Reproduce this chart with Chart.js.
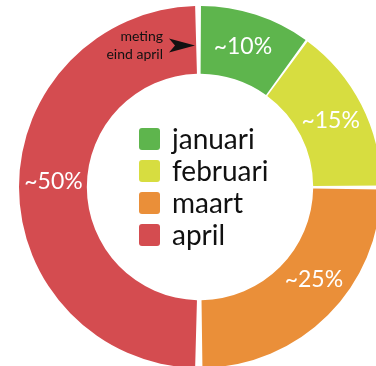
<!DOCTYPE html>
<html lang="nl">
<head>
  <meta charset="UTF-8">
  <title>Verdeling per maand</title>
  <script src="https://cdn.jsdelivr.net/npm/chart.js"></script>
  <style>
    html, body {
      margin: 0;
      padding: 0;
      background: #fff;
      overflow: hidden;
      width: 376px;
      height: 366px;
    }
    .wrap {
      position: absolute;
      left: 19px;
      top: 6px;
      width: 362px;
      height: 362px;
    }
  </style>
</head>
<body>
  <div class="wrap">
    <canvas id="donut" width="362" height="362"></canvas>
  </div>

  <script>
    // maanden en aandelen (procent)
    const maanden = ['januari', 'februari', 'maart', 'april'];
    const aandelen = [10, 15, 25, 50];
    const kleuren = ['#5eb54d', '#d7dd40', '#ea8f39', '#d44c50'];

    const FONT = 'Lato, "Open Sans", sans-serif';

    // kleine verschuiving (graden) van de percentage-labels t.o.v. het midden van het segment
    const labelVerschuiving = [-1, 0, -6, 2];

    // percentages in de ring
    const ringLabels = {
      id: 'ringLabels',
      afterDatasetsDraw(chart) {
        const ctx = chart.ctx;
        const meta = chart.getDatasetMeta(0);
        ctx.save();
        ctx.fillStyle = '#fff';
        ctx.font = '23px ' + FONT;
        ctx.textAlign = 'center';
        ctx.textBaseline = 'middle';
        meta.data.forEach((arc, i) => {
          const p = arc.getProps(['x', 'y', 'startAngle', 'endAngle', 'innerRadius', 'outerRadius'], true);
          const hoek = (p.startAngle + p.endAngle) / 2 + labelVerschuiving[i] * Math.PI / 180;
          const r = (p.innerRadius + p.outerRadius) / 2 + 2;
          ctx.fillText('~' + aandelen[i] + '%', p.x + Math.cos(hoek) * r, p.y + Math.sin(hoek) * r);
        });
        ctx.restore();
      }
    };

    // legenda midden in de donut
    const middenLegenda = {
      id: 'middenLegenda',
      afterDraw(chart) {
        const ctx = chart.ctx;
        const meta = chart.getDatasetMeta(0);
        const cx = meta.data[0].x;
        const cy = meta.data[0].y;
        const x0 = cx - 61;
        const y0 = cy - 48;
        const stap = 32;
        ctx.save();
        ctx.font = '28px ' + FONT;
        ctx.textBaseline = 'middle';
        maanden.forEach((m, i) => {
          const y = y0 + i * stap;
          ctx.fillStyle = kleuren[i];
          ctx.beginPath();
          ctx.roundRect(x0, y - 11, 21, 22, 3);
          ctx.fill();
          ctx.fillStyle = '#111';
          ctx.fillText(m, x0 + 33, y + 1);
        });
        ctx.restore();
      }
    };

    // notitie met pijl bij de start van januari
    const notitie = {
      id: 'notitie',
      afterDraw(chart) {
        const ctx = chart.ctx;
        const meta = chart.getDatasetMeta(0);
        const cx = meta.data[0].x;
        const top = meta.data[0].y - meta.data[0].outerRadius;
        ctx.save();
        ctx.fillStyle = '#111';
        ctx.font = '14px ' + FONT;
        ctx.textAlign = 'right';
        ctx.textBaseline = 'middle';
        ctx.fillText('meting', cx - 37, top + 28);
        ctx.fillText('eind april', cx - 37, top + 46);
        // pijlpunt
        const py = top + 37;
        ctx.beginPath();
        ctx.moveTo(cx - 5, py);
        ctx.lineTo(cx - 31, py - 7);
        ctx.lineTo(cx - 25, py);
        ctx.lineTo(cx - 31, py + 7);
        ctx.closePath();
        ctx.fill();
        ctx.restore();
      }
    };

    new Chart(document.getElementById('donut'), {
      type: 'doughnut',
      data: {
        labels: maanden,
        datasets: [{
          data: aandelen,
          backgroundColor: kleuren,
          borderColor: '#fff',
          borderWidth: 0,
          spacing: 5
        }]
      },
      options: {
        responsive: false,
        animation: false,
        cutout: '62%',
        layout: { padding: 0 },
        plugins: {
          legend: { display: false },
          tooltip: { enabled: false }
        }
      },
      plugins: [ringLabels, middenLegenda, notitie]
    });
  </script>
</body>
</html>
